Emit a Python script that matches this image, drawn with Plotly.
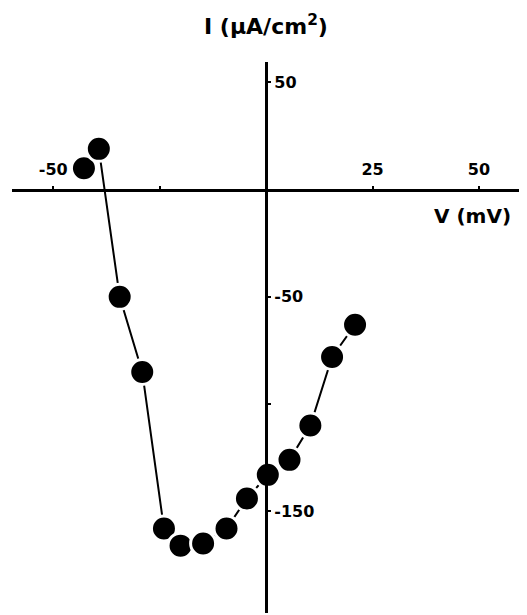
import plotly.graph_objects as go

# membrane potential (mV) and current density (uA/cm2)
voltage = [-42.8, -39.3, -34.4, -29.1, -24.0, -20.1, -14.8, -9.3, -4.5, 0.4, 5.5, 10.4, 15.5, 20.9]
current = [10, 19, -50, -85, -158, -166, -165, -158, -144, -133, -126, -110, -78, -63]

x_ticks = [-50, -25, 25, 50]
x_labels = [-50, 25, 50]
y_ticks = [50, -50, -100, -150]
y_labels = [50, -50, -150]

x_range = [-59.7, 61.3]
y_range = [-197.4, 59.5]

# where the axes cross (paper fractions of x=0 and y=0)
x_zero = (0 - x_range[0]) / (x_range[1] - x_range[0])
y_zero = (0 - y_range[0]) / (y_range[1] - y_range[0])

FONT = "DejaVu Sans"
tick_font = dict(family=FONT, size=16, color="black", weight="bold")

fig = go.Figure()
fig.add_trace(go.Scatter(x=voltage, y=current, mode="lines+markers",
                         line=dict(color="black", width=2),
                         marker=dict(size=25, color="black",
                                     line=dict(color="white", width=3)),
                         cliponaxis=False, showlegend=False))

tick_style = dict(tickcolor="black", ticklen=3, tickwidth=2, ticks="outside")
axis_common = dict(showgrid=False, zeroline=False, linecolor="black",
                   automargin=False, **tick_style)

unlabeled_x = [v for v in x_ticks if v not in x_labels]
unlabeled_y = [v for v in y_ticks if v not in y_labels]

# page body has an 8px margin, so the figure is a bit smaller than the window
fig.update_layout(
    width=519, height=607,
    margin=dict(l=4, r=0, t=54, b=2, autoexpand=False),
    paper_bgcolor="white", plot_bgcolor="white",
    xaxis=dict(range=x_range, anchor="free", position=y_zero, side="top",
               showline=True, linewidth=3, tickvals=x_labels,
               ticktext=[str(v) for v in x_labels],
               minor=dict(tickvals=unlabeled_x, **tick_style),
               tickfont=tick_font, ticklabelstandoff=4, **axis_common),
    xaxis2=dict(range=x_range, overlaying="x", anchor="free", position=y_zero,
                side="bottom", showline=False, tickvals=x_ticks,
                showticklabels=False, **axis_common),
    yaxis=dict(range=y_range, anchor="free", position=x_zero, side="right",
               showline=True, linewidth=3, tickvals=y_labels,
               ticktext=[str(v) for v in y_labels],
               minor=dict(tickvals=unlabeled_y, **tick_style),
               tickfont=tick_font, ticklabelstandoff=0, **axis_common),
    yaxis2=dict(range=y_range, overlaying="y", anchor="free", position=x_zero,
                side="left", showline=False, tickvals=y_ticks,
                showticklabels=False, **axis_common),
)

fig.add_annotation(text="I (μA/cm<sup>2</sup>)", xref="x", x=0, yref="paper",
                   y=1 + 37 / 551, yanchor="middle", showarrow=False,
                   font=dict(family=FONT, size=22, color="black", weight="bold"))
fig.add_annotation(text="V (mV)", xref="x", x=48.4, yref="y", y=0, yshift=-26,
                   yanchor="middle", showarrow=False,
                   font=dict(family=FONT, size=20, color="black", weight="bold"))

fig.write_html("out.html")
